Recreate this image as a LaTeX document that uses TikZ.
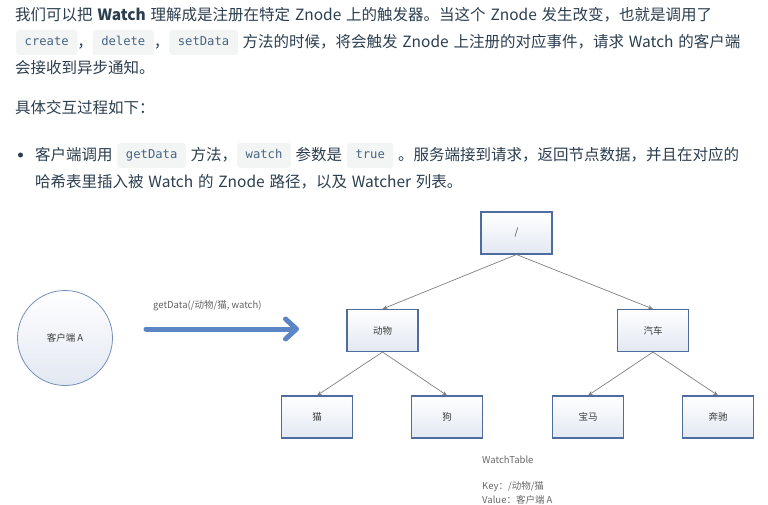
\documentclass[tikz,border=0pt]{standalone}
\usepackage{fontspec}
\setmainfont{Noto Sans CJK SC}
\newfontfamily\monofont{DejaVu Sans Mono}
\usepackage{xcolor}
\usetikzlibrary{arrows.meta}
\definecolor{TextInk}{HTML}{2C3E50}
\definecolor{CodeBg}{RGB}{243, 244, 244}
\definecolor{CodeInk}{HTML}{476582}
\definecolor{BoxLine}{RGB}{79, 108, 158}
\definecolor{BoxFill}{RGB}{226, 232, 242}
\definecolor{CircleLine}{RGB}{118, 143, 185}
\definecolor{ArrowBlue}{RGB}{91, 133, 196}
\definecolor{EdgeGray}{RGB}{128, 128, 128}
\definecolor{LabelInk}{RGB}{60, 60, 60}
\definecolor{NoteGray}{RGB}{105, 105, 105}
\newcommand{\parafont}{\fontsize{15.5}{26}\selectfont\spaceskip 4.8pt\relax}

\tikzset{
  para/.style={anchor=base west, inner sep=0pt, text=TextInk, font=\parafont},
  codebox/.style={fill=CodeBg, rounded corners=3pt, text=CodeInk,
    font=\monofont\fontsize{12.2}{14}\selectfont,
    inner xsep=8.5pt, inner ysep=6.5pt, text height=9pt, text depth=3pt,
    anchor=base},
  client/.style={circle, draw=CircleLine, line width=0.8pt,
    top color=white, bottom color=BoxFill, minimum size=95pt,
    inner sep=0pt, text=LabelInk, font=\fontsize{9.5}{11}\selectfont},
  treebox/.style={draw=BoxLine, line width=1.1pt,
    top color=white, bottom color=BoxFill,
    minimum width=71pt, minimum height=42pt, inner sep=0pt,
    text=LabelInk, font=\fontsize{9.5}{11}\selectfont},
  treeline/.style={draw=EdgeGray, line width=0.7pt,
    -{Stealth[length=5pt, width=4pt]}},
  callarrow/.style={draw=ArrowBlue, line width=5pt, line cap=round,
    -{Straight Barb[length=11pt, width=20pt, round]}},
  note/.style={anchor=west, inner sep=0pt, text=NoteGray,
    font=\fontsize{9.5}{11}\selectfont}
}
\newcommand{\code}[1]{\tikz[baseline={([yshift=-2.5pt]c.base)}]\node[codebox] (c) {#1};}

\begin{document}
\begin{tikzpicture}[x=1pt, y=-1pt]
  \useasboundingbox[fill=white] (0,0) rectangle (768,505);

  % text above the diagram
  \node[para] (p1a) at (15,21) {我们可以把 \textbf{Watch} 理解成是注册在特定 Znode 上的触发器。当这个 Znode 发生改变，也就是调用了};
  \node[para] (p1b) at (16,48) {\code{create}，\code{delete}，\code{setData} 方法的时候，将会触发 Znode 上注册的对应事件，请求 Watch 的客户端};
  \node[para] (p1c) at (15,74) {会接收到异步通知。};
  \node[para] (p2) at (15,114) {具体交互过程如下：};
  \node[circle, fill=TextInk, inner sep=0pt, minimum size=5pt] (dot) at (20.5,155) {};
  \node[para] (b1a) at (35,161) {客户端调用 \code{getData} 方法，\code{watch} 参数是 \code{true} 。服务端接到请求，返回节点数据，并且在对应的};
  \node[para] (b1b) at (35,188) {哈希表里插入被 Watch 的 Znode 路径，以及 Watcher 列表。};

  % client and call
  \node[client] (client) at (65,338) {客户端 A};
  \coordinate (callfrom) at (146,329);
  \coordinate (callto) at (299,329);
  \draw[callarrow] (callfrom) -- (callto);
  \node[note, text=LabelInk!80] (calltext) at (153,306) {getData(/动物/猫, watch)};

  % znode tree
  \node[treebox] (root) at (516.5,233) {/};
  \node[treebox] (animal) at (382.5,330.5) {动物};
  \node[treebox] (car) at (653,330.5) {汽车};
  \node[treebox] (cat) at (317,417) {猫};
  \node[treebox] (dog) at (447,417) {狗};
  \node[treebox] (bmw) at (588,417) {宝马};
  \node[treebox] (benz) at (718,417) {奔驰};
  \foreach \from/\to in {root/animal, root/car, animal/cat, animal/dog, car/bmw, car/benz}
    \draw[treeline] (\from.south) -- (\to.north);

  % watch table
  \node[note] (wtitle) at (482,460) {WatchTable};
  \node[note] (wkey) at (482,487) {Key：/动物/猫};
  \node[note] (wvalue) at (482,499.5) {Value：客户端 A};
\end{tikzpicture}
\end{document}
